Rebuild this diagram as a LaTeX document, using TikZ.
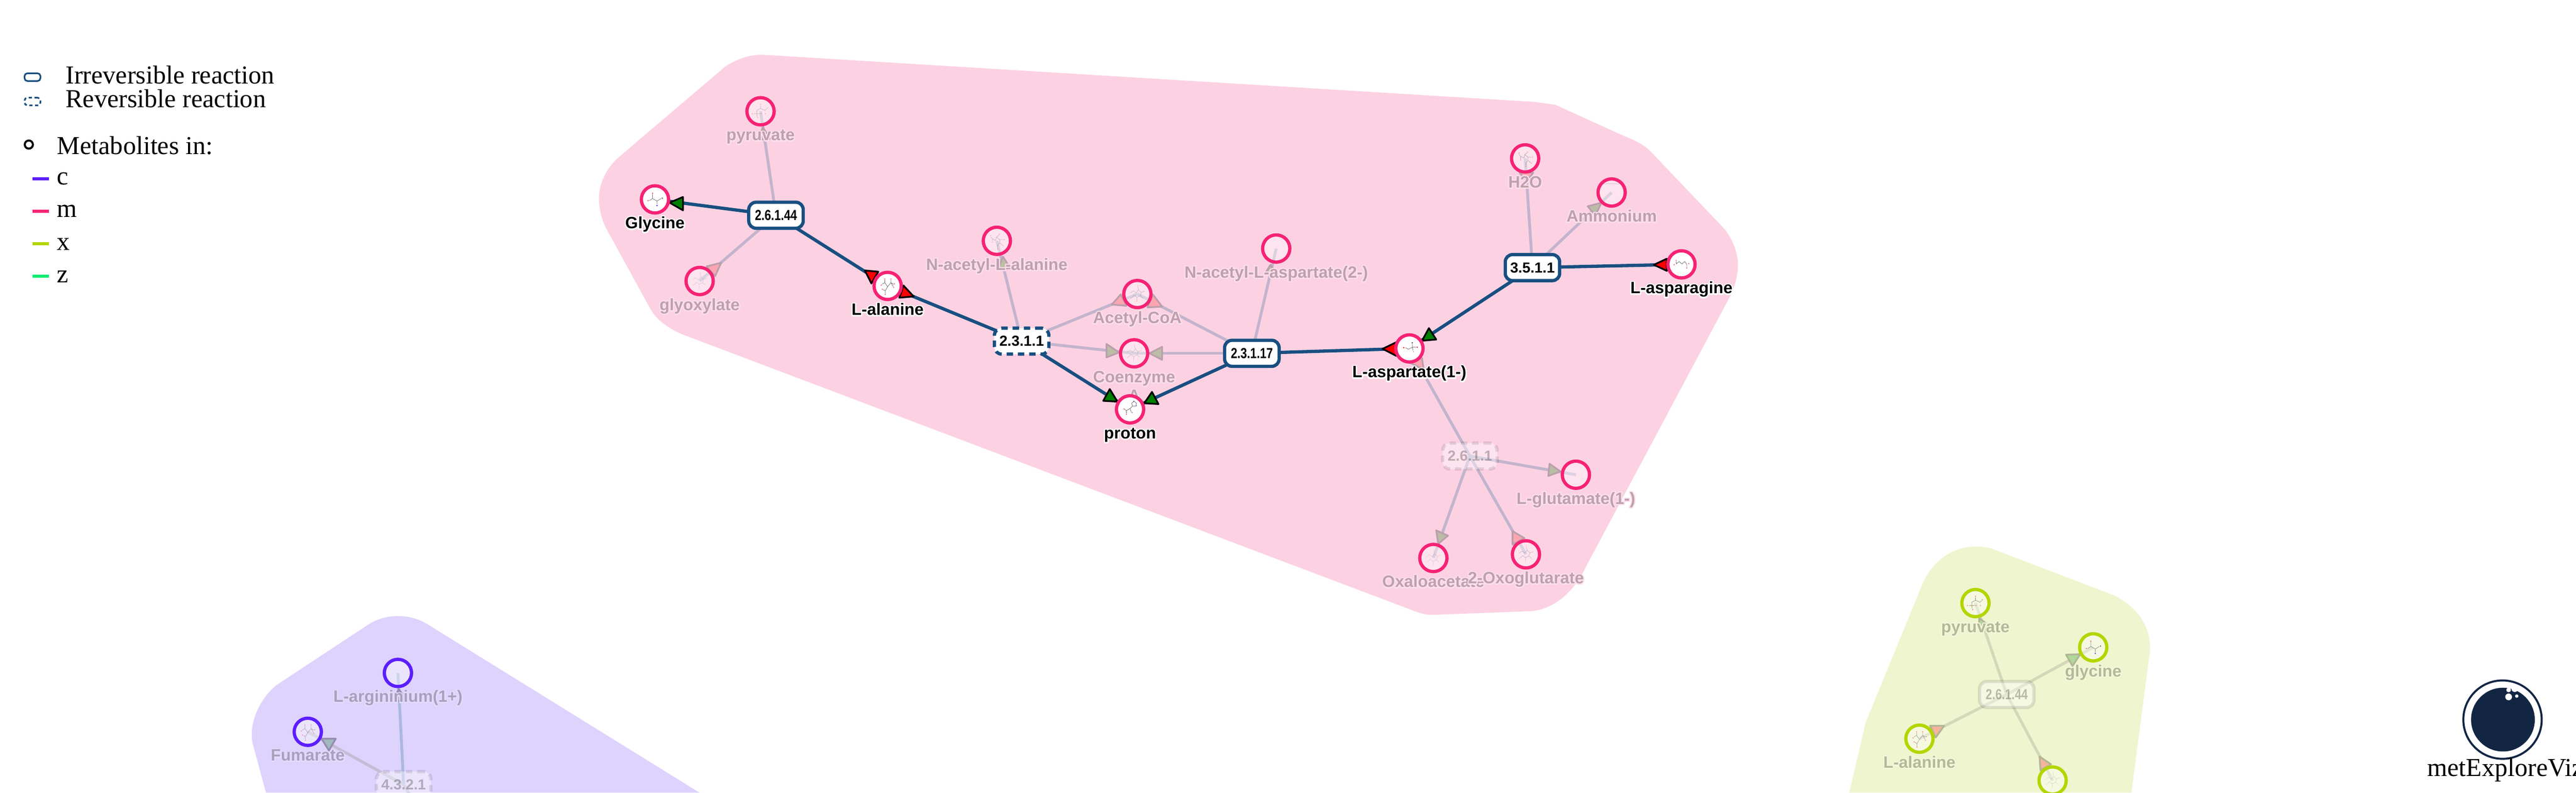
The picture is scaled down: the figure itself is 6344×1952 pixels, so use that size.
\documentclass[tikz,border=0pt]{standalone}
\usepackage{fontspec}
\setmainfont{Liberation Serif}
\newfontfamily\labfont{Liberation Sans}
\usepackage{graphicx}
\pgfdeclarelayer{hullL}
\pgfdeclarelayer{linkL}
\pgfdeclarelayer{triL}
\pgfsetlayers{hullL,linkL,triL,main}
\definecolor{cc}{HTML}{5C1EFF}
\definecolor{cm}{HTML}{F72274}
\definecolor{cx}{HTML}{B5D500}
\definecolor{cz}{HTML}{10EC75}
\definecolor{hullm}{HTML}{FCD2E3}
\definecolor{hullc}{HTML}{DED3FD}
\definecolor{hullx}{HTML}{EFF5CF}
\definecolor{rblue}{HTML}{184F80}
\definecolor{logoblue}{HTML}{122644}
\definecolor{txtm}{HTML}{BEA0AF}
\definecolor{txtc}{HTML}{AAA0BE}
\definecolor{txtx}{HTML}{B4B99B}
\definecolor{linkm}{HTML}{C3B4CD}
\definecolor{linkc}{HTML}{C3BED7}
\definecolor{linkd}{HTML}{AAB9E1}
\definecolor{linkx}{HTML}{D4D8B9}
\definecolor{tsm}{HTML}{BAA0AC}
\definecolor{tsc}{HTML}{968CAF}
\definecolor{tsx}{HTML}{B0B696}
\definecolor{fgm}{HTML}{BBBEA5}
\definecolor{frm}{HTML}{FFA5B2}
\definecolor{fgc}{HTML}{A0B9BE}
\definecolor{fgx}{HTML}{B2D79B}
\definecolor{frx}{HTML}{F5B49B}
\definecolor{molgrey}{HTML}{777777}
% halo behind a text: one stroked copy under the filled one
\newcommand{\halotext}[3]{\special{pdf:code q 1 Tr #1 RG #2 w 1 j}\rlap{#3}\special{pdf:code Q}#3}
\def\halom{0.99 0.88 0.92}
\def\haloc{0.89 0.86 0.99}
\def\halox{0.96 0.97 0.86}
\tikzset{
  metB/.style={circle,minimum size=0.67cm,inner sep=0pt,line width=2.28pt,draw=#1,fill=white},
  metF/.style={metB=#1,fill opacity=.4},
  lbl/.style={anchor=base,inner sep=0pt,font=\labfont\bfseries\fontsize{11.5pt}{13pt}\selectfont},
  rxnbase/.style={rectangle,rounded corners=0.18cm,minimum width=1.34cm,minimum height=0.64cm,inner sep=0pt,
    line width=2.28pt,font=\labfont\bfseries\fontsize{10.2pt}{12pt}\selectfont},
  rxnI/.style={rxnbase,draw=rblue,fill=white},
  rxnR/.style={rxnI,dash pattern=on 4.5pt off 3.4pt},
  rxnFI/.style={rxnbase,draw=black,draw opacity=.1,fill=white,fill opacity=.4,text opacity=.25},
  rxnFR/.style={rxnFI,dash pattern=on 4.5pt off 3.4pt},
  hlink/.style={draw=rblue,line width=2.28pt},
  flink/.style={draw=#1,line width=2pt},
  triG/.style={draw=black,fill=green!50!black,line width=1.2pt,line join=round},
  triR/.style={draw=black,fill=red,line width=1.2pt,line join=round},
  triF/.style 2 args={draw=#1,fill=#2,line width=1.2pt,line join=round},
  legtext/.style={anchor=base west,inner sep=0pt,font=\fontsize{18.1pt}{20pt}\selectfont},
  legbox/.style={rectangle,rounded corners=0.07cm,minimum width=0.39cm,minimum height=0.19cm,inner sep=0pt,
    line width=1.14pt,draw=rblue,fill=white},
  legmet/.style={circle,minimum size=0.2cm,inner sep=0pt,line width=1.42pt,draw=black,fill=white},
  legline/.style={draw=#1,line width=2.28pt},
  molb/.style={draw=molgrey,line width=0.3pt},
  molgly/.pic={
    \draw[molb] (-6,-13)--(-6,-2)--(-14,3) (-6,-2)--(5,4)--(15,-2) (5,4)--(5,12);
    \fill[red] (-6,-15) circle (1.4) (-17,3) circle (1.4);
    \fill[blue] (5,15) circle (1.6); \fill[black!80] (18,-3) circle (1.6);},
  molala/.pic={
    \draw[molb] (-14,-4)--(-7,-8)--(0,2)--(8,-8)--(15,-4) (-7,-8)--(-7,-15) (8,-8)--(8,-15) (0,2)--(-6,12)--(-11,9) (-6,12)--(-6,19) (8,-8)--(14,2);
    \fill[red] (-16,-2) circle (1.2) (-7,-17) circle (1.2) (8,-17) circle (1.2) (17,-5) circle (1.2) (-6,21) circle (1.2) (-13,8) circle (1.2) (15,4) circle (1.2);},
  molasp/.pic={
    \draw[molb] (-10,-2)--(-3,2)--(7,-3)--(16,-3) (7,-3)--(7,-12) (7,-3)--(9,5);
    \fill[red] (-14,-2) circle (1.7) (19,-3) circle (1.7);
    \fill[black!80] (7,-14) circle (1.6); \fill[molgrey] (10,8) circle (1.1);},
  molpyr/.pic={
    \draw[molb] (0,-14)--(0,-7)--(-9,-2)--(-9,5) (0,-7)--(11,-2) (11,-2)--(15,-6) (-16,6)--(-2,6) (-9,6)--(-8,14);
    \fill[red] (0,-17) circle (1.2) (17,-8) circle (1.2) (-20,6) circle (1.2) (1,6) circle (1.2) (12,6) circle (1.2) (-7,16) circle (1.2);
    \fill[orange] (-9,6) circle (1.2);},
  molhis/.pic={
    \draw[molb] (6,-8)--(4,-15)--(10,-20)--(16,-15)--(14,-8)--cycle (6,-8)--(0,-2)--(-9,3)--(-9,10) (-9,3)--(-14,0) (0,-2)--(3,7);
    \fill[blue] (9,-20) circle (1) (16,-9) circle (1) (5,8) circle (1);
    \fill[red] (-15,-1) circle (1.2) (-9,12) circle (1.2);},
  molfum/.pic={
    \draw[molb] (-13,-1)--(-6,-7)--(1,-1)--(8,-7)--(13,0) (-13,-1)--(-13,-7) (13,0)--(13,6);
    \fill[red] (-18,1) circle (1.2) (-13,-10) circle (1.2) (13,9) circle (1.2) (18,-2) circle (1.2);},
  molglu/.pic={
    \draw[molb] (-11,-5)--(-3,-1)--(-1,-9)--(7,-3)--(7,5)--(2,11)--(2,18) (-11,-5)--(-11,2) (-11,-5)--(-15,-10) (-1,-9)--(5,-14) (7,-3)--(15,-3) (7,5)--(13,10);
    \fill[red] (-15,-13) circle (1.2) (-11,4) circle (1.2) (6,-16) circle (1.2) (18,-3) circle (1.2) (15,12) circle (1.2) (2,20) circle (1.2);},
  moltree/.pic={
    \draw[molb] (-18,-2)--(-10,-8)--(-3,-3)--(3,-10)--(10,-4)--(18,-7) (10,-4)--(7,4)--(14,10) (7,4)--(-1,8)--(-8,3)--(-14,9) (-1,8)--(-1,16) (3,-10)--(1,-18);
    \fill[red] (1,-20) circle (1) (-1,18) circle (1) (-16,10) circle (1);},
  molwave/.pic={\draw[molb] (-21,-22) -- (-14,-21) -- (-7,-22) -- (0,-21) -- (7,-22) -- (14,-21) -- (20,-22);},
}
\newcommand{\metbold}[4]{%
  \node[metB=cm] (#1) at (#2,#3) {};
  \node[lbl] (#1t) at (#2,{#3+72}) {\halotext{1 1 1}{1.8}{#4}};}
\newcommand{\metfade}[5]{%
  \node[metF=c#4] (#1) at (#2,#3) {};
  \node[lbl] (#1t) at (#2,{#3+72}) {\textcolor{txt#4}{\halotext{\csname halo#4\endcsname}{1.6}{#5}}};}
\newcommand{\tria}[4]{\path[#1] (#2) -- (#3) -- (#4) -- cycle;}
\begin{document}
\begin{tikzpicture}[x=0.01cm,y=-0.01cm]
\useasboundingbox (0,0) rectangle (6344,1952);

% compartments
\begin{pgfonlayer}{hullL}
\fill[hullm] (1881,135) -- (3780,251) -- (3830,258) -- (4000,335)
  .. controls (4030,347) and (4050,358) .. (4063,371) -- (4248,565)
  .. controls (4270,595) and (4280,625) .. (4280,652)
  .. controls (4280,680) and (4272,705) .. (4261,729) -- (3906,1395)
  .. controls (3885,1440) and (3840,1500) .. (3768,1505) -- (3527,1514)
  .. controls (3510,1514) and (3498,1510) .. (3487,1506) -- (1682,824)
  .. controls (1645,808) and (1620,790) .. (1603,763) -- (1491,559)
  .. controls (1480,535) and (1475,510) .. (1475,489)
  .. controls (1475,450) and (1495,412) .. (1524,387) -- (1786,164)
  .. controls (1815,145) and (1850,133) .. (1881,135) -- cycle;
\fill[hullc] (680,1952) -- (655,1952) -- (622,1830)
  .. controls (612,1780) and (640,1720) .. (681,1687) -- (907,1538)
  .. controls (950,1510) and (1010,1510) .. (1054,1538) -- (1723,1952) -- cycle;
\fill[hullx] (4554,1952) -- (4595,1778) -- (4735,1437)
  .. controls (4760,1380) and (4810,1346) .. (4864,1346)
  .. controls (4885,1346) and (4900,1348) .. (4913,1354) -- (5206,1466)
  .. controls (5265,1495) and (5297,1545) .. (5295,1600) -- (5249,1952) -- cycle;
\end{pgfonlayer}

% legend
\node[legbox] (legI) at (80,190) {};
\node[legtext] (legIt) at (161,206) {Irreversible reaction};
\node[legbox,dash pattern=on 2.2pt off 1.8pt] (legR) at (80,250) {};
\node[legtext] (legRt) at (161,265) {Reversible reaction};
\node[legmet] (legM) at (71,356) {};
\node[legtext] (legMt) at (140,380) {Metabolites in:};
\draw[legline=cc] (80,440) -- (120,440);
\node[legtext] (legc) at (140,455) {c};
\draw[legline=cm] (80,520) -- (120,520);
\node[legtext] (legm) at (140,535) {m};
\draw[legline=cx] (80,600) -- (120,600);
\node[legtext] (legx) at (140,616) {x};
\draw[legline=cz] (80,680) -- (120,680);
\node[legtext] (legz) at (140,696) {z};

% faded nodes in m
\metfade{pyrm}{1873}{274}{m}{pyruvate}
\metfade{glyo}{1723}{692}{m}{glyoxylate}
\metfade{naala}{2455}{593}{m}{N-acetyl-L-alanine}
\metfade{acoa}{2801}{724}{m}{Acetyl-CoA}
\metfade{coa}{2793}{870}{m}{Coenzyme}
\node[lbl] (coat2) at (2793,988) {\textcolor{txtm}{\halotext{\halom}{1.6}{A}}};
\metfade{naasp}{3143}{612}{m}{N-acetyl-L-aspartate(2-)}
\metfade{hwo}{3756}{390}{m}{H2O}
\metfade{ammo}{3969}{474}{m}{Ammonium}
\metfade{glut}{3881}{1169}{m}{L-glutamate(1-)}
\metfade{oxal}{3530}{1374}{m}{Oxaloacetate}
\metfade{oxog}{3758}{1365}{m}{2-Oxoglutarate}
\node[rxnFR] (r2611) at (3620,1123) {2.6.1.1};

% faded nodes in c
\metfade{argi}{980}{1657}{c}{L-argininium(1+)}
\metfade{fuma}{758}{1802}{c}{Fumarate}
\node[rxnFR] (r4321) at (994,1932) {4.3.2.1};
\coordinate (offc) at (1030,1990);

% faded nodes in x
\metfade{pyrx}{4865}{1485}{x}{pyruvate}
\metfade{glyx}{5155}{1594}{x}{glycine}
\metfade{alax}{4727}{1819}{x}{L-alanine}
\node[metF=cx] (offx) at (5055,1922) {};
\node[rxnFI] (r26144x) at (4942,1710) {\scalebox{.8}[1]{2.6.1.44}};

% highlighted nodes
\metbold{glym}{1613}{491}{Glycine}
\metbold{alam}{2186}{704}{L-alanine}
\metbold{prot}{2783}{1008}{proton}
\metbold{aspa}{3471}{858}{L-aspartate(1-)}
\metbold{aspn}{4141}{651}{L-asparagine}
\node[rxnI] (r26144) at (1911,530) {\scalebox{.8}[1]{2.6.1.44}};
\node[rxnR] (r2311) at (2516,840) {2.3.1.1};
\node[rxnI] (r23117) at (3083,870) {\scalebox{.8}[1]{2.3.1.17}};
\node[rxnI] (r3511) at (3774,659) {3.5.1.1};

% molecule sketches inside the metabolites
\pic at (glym.center) {molgly};
\pic at (alam.center) {molala};
\pic at (prot.center) {molhis};
\pic at (aspa.center) {molasp};
\pic at (aspn.center) {molfum};
\pic[opacity=.4] at (pyrm.center) {molpyr};
\pic[opacity=.2] at (glyo.center) {moltree};
\pic[opacity=.4] at (naala.center) {molglu};
\pic[opacity=.35] at (acoa.center) {moltree};
\pic[opacity=.3] at (coa.center) {moltree};
\pic[opacity=.5] at (hwo.center) {molglu};
\pic[opacity=.3] at (ammo.center) {molwave};
\pic[opacity=.2] at (oxal.center) {moltree};
\pic[opacity=.35] at (oxog.center) {moltree};
\pic[opacity=.5] at (fuma.center) {molala};
\pic[opacity=.7] at (pyrx.center) {molpyr};
\pic[opacity=.8] at (glyx.center) {molgly};
\pic[opacity=.6] at (alax.center) {molala};
\pic[opacity=.2] at (offx.center) {moltree};

% links
\begin{pgfonlayer}{linkL}
\draw[flink=linkm] (pyrm.center) -- (r26144.center);
\draw[flink=linkm] (glyo.center) -- (r26144.center);
\draw[flink=linkm] (naala.center) -- (r2311.center);
\draw[flink=linkm] (acoa.center) -- (r2311.center);
\draw[flink=linkm] (coa.center) -- (r2311.center);
\draw[flink=linkm] (acoa.center) -- (r23117.center);
\draw[flink=linkm] (coa.center) -- (r23117.center);
\draw[flink=linkm] (naasp.center) -- (r23117.center);
\draw[flink=linkm] (hwo.center) -- (r3511.center);
\draw[flink=linkm] (ammo.center) -- (r3511.center);
\draw[flink=linkm] (aspa.center) -- (r2611.center);
\draw[flink=linkm] (glut.center) -- (r2611.center);
\draw[flink=linkm] (oxal.center) -- (r2611.center);
\draw[flink=linkm] (oxog.center) -- (r2611.center);
\draw[hlink] (glym.center) -- (r26144.center);
\draw[hlink] (alam.center) -- (r26144.center);
\draw[hlink] (alam.center) -- (r2311.center);
\draw[hlink] (prot.center) -- (r2311.center);
\draw[hlink] (prot.center) -- (r23117.center);
\draw[hlink] (aspa.center) -- (r23117.center);
\draw[hlink] (aspa.center) -- (r3511.center);
\draw[hlink] (aspn.center) -- (r3511.center);
\draw[flink=linkd] (argi.center) -- (r4321.center);
\draw[flink=linkc] (fuma.center) -- (r4321.center);
\draw[flink=linkc] (r4321.center) -- (offc);
\draw[flink=linkx] (pyrx.center) -- (r26144x.center);
\draw[flink=linkx] (glyx.center) -- (r26144x.center);
\draw[flink=linkx] (alax.center) -- (r26144x.center);
\draw[flink=linkx] (offx.center) -- (r26144x.center);
\end{pgfonlayer}

% arrowheads
\begin{pgfonlayer}{triL}
\tria{triG}{1682,485}{1682,518}{1649,499}
\tria{triR}{2130,666}{2163,669}{2146,698}
\tria{triR}{2225,703}{2250,730}{2215,733}
\tria{triG}{2733,958}{2752,989}{2717,987}
\tria{triG}{2837,965}{2853,995}{2818,993}
\tria{triR}{3405,859}{3438,843}{3438,876}
\tria{triG}{3519,808}{3537,836}{3502,839}
\tria{triR}{4073,652}{4105,637}{4105,667}
\tria{triF={tsm}{fgm}}{1879,314}{1897,342}{1866,344}
\tria{triF={tsm}{frm}}{1776,647}{1740,656}{1761,680}
\tria{triF={tsm}{fgm}}{2470,632}{2488,660}{2457,664}
\tria{triF={tsm}{frm}}{2760,725}{2774,753}{2738,750}
\tria{triF={tsm}{frm}}{2839,725}{2862,755}{2826,757}
\tria{triF={tsm}{fgm}}{2725,847}{2756,868}{2725,880}
\tria{triF={tsm}{fgm}}{2862,854}{2831,870}{2862,886}
\tria{triF={tsm}{fgm}}{3129,652}{3144,676}{3114,676}
\tria{triF={tsm}{frm}}{3502,882}{3506,910}{3472,893}
\tria{triF={tsm}{frm}}{3742,425}{3776,425}{3760,447}
\tria{triF={tsm}{fgm}}{3910,508}{3944,499}{3929,530}
\tria{triF={tsm}{fgm}}{3816,1142}{3843,1161}{3813,1172}
\tria{triF={tsm}{fgm}}{3537,1306}{3566,1319}{3542,1339}
\tria{triF={tsm}{frm}}{3725,1308}{3754,1325}{3725,1341}
\tria{triF={tsc}{fgc}}{982,1697}{1003,1726}{968,1727}
\tria{triF={tsc}{fgc}}{792,1819}{827,1819}{810,1848}
\tria{triF={tsx}{fgx}}{4874,1522}{4902,1543}{4874,1554}
\tria{triF={tsx}{fgx}}{5123,1611}{5088,1612}{5104,1640}
\tria{triF={tsx}{frx}}{4753,1787}{4788,1787}{4767,1816}
\tria{triF={tsx}{frx}}{5023,1863}{5051,1882}{5025,1897}
\end{pgfonlayer}

% logo
\draw[logoblue,line width=1.42pt] (6163,1772) circle (96.5);
\fill[logoblue] (6164,1772) circle (78.5);
\fill[white] (6178,1699) circle (5.7) (6193,1696) circle (8) (6178,1716) circle (8.3) (6198,1714) circle (4.2);
\node[legtext] (logot) at (5977,1912) {metExploreViz};
\end{tikzpicture}
\end{document}
